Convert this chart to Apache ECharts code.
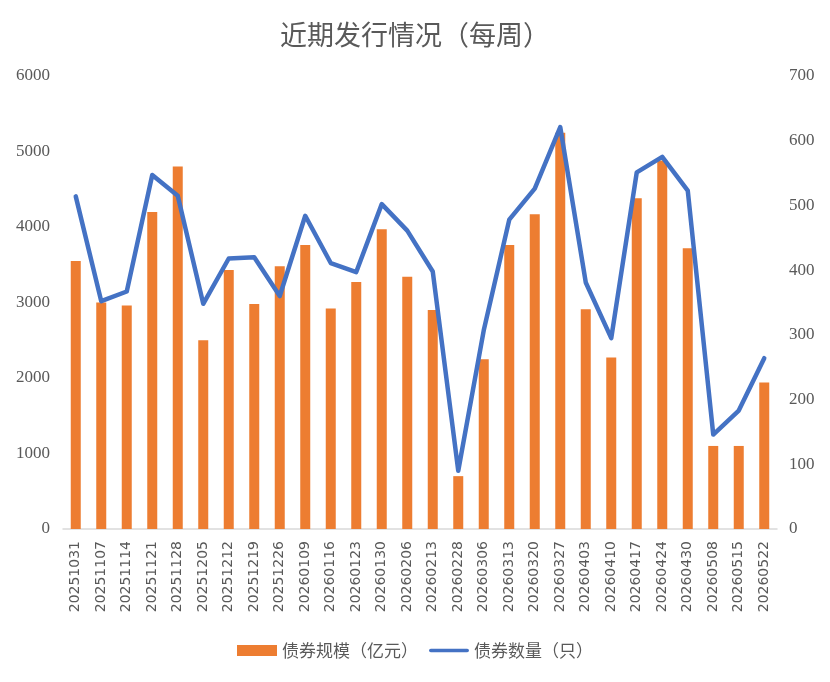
<!DOCTYPE html>
<html>
<head>
<meta charset="utf-8">
<script src="https://cdn.jsdelivr.net/npm/echarts@6/dist/echarts.min.js"></script>
<style>
  html, body { margin: 0; padding: 0; background: #fff; }
  #chart { width: 830px; height: 682px; }
</style>
</head>
<body>
<div id="chart"></div>
<script>
// 日期
var categories = ["20251031","20251107","20251114","20251121","20251128","20251205","20251212",
  "20251219","20251226","20260109","20260116","20260123","20260130","20260206","20260213",
  "20260228","20260306","20260313","20260320","20260327","20260403","20260410","20260417",
  "20260424","20260430","20260508","20260515","20260522"];
// 债券规模（亿元）
var scaleValues = [3550,3000,2960,4200,4800,2500,3430,2980,3480,3760,2920,3270,3970,3340,2900,
  700,2250,3760,4170,5250,2910,2270,4380,4880,3720,1100,1100,1940];
// 债券数量（只）
var countValues = [514,352,367,547,515,348,418,420,360,484,411,397,502,461,398,
  90,307,478,526,621,381,295,551,575,523,146,183,264];

var grey = "#595959";
var chart = echarts.init(document.getElementById("chart"));
var option = {
  backgroundColor: "#fff",
  title: {
    text: "近期发行情况（每周）",
    left: "center",
    top: 16,
    textStyle: { color: grey, fontSize: 27, fontWeight: "normal", fontFamily: "Noto Sans CJK SC" }
  },
  legend: {
    bottom: 18,
    left: "center",
    itemGap: 11,
    itemWidth: 40,
    itemHeight: 11,
    textStyle: { color: grey, fontSize: 17, fontFamily: "Noto Sans CJK SC" },
    data: [
      { name: "债券规模（亿元）", icon: "rect" },
      { name: "债券数量（只）", icon: "path://M2,0 L42,0 A2,2 0 0 1 42,4 L2,4 A2,2 0 0 1 2,0 Z" }
    ]
  },
  grid: { left: 63, right: 53, top: 76, bottom: 153 },
  xAxis: {
    type: "category",
    data: categories,
    axisLine: { lineStyle: { color: "#d9d9d9", width: 1.5 } },
    axisTick: { show: false },
    axisLabel: {
      interval: 0,
      rotate: 90,
      color: grey,
      fontSize: 14,
      fontFamily: "DejaVu Sans",
      margin: 12
    }
  },
  yAxis: [
    {
      type: "value",
      min: 0, max: 6000, interval: 1000,
      splitLine: { show: false },
      axisLine: { show: false },
      axisLabel: { color: grey, fontSize: 17, fontFamily: "Liberation Serif", margin: 13,
        formatter: function (v) { return String(v); } }
    },
    {
      type: "value",
      min: 0, max: 700, interval: 100,
      splitLine: { show: false },
      axisLine: { show: false },
      axisLabel: { color: grey, fontSize: 17, fontFamily: "Liberation Serif", margin: 12 }
    }
  ],
  series: [
    {
      name: "债券规模（亿元）",
      type: "bar",
      yAxisIndex: 0,
      barWidth: 10,
      itemStyle: { color: "#ED7D31" },
      data: scaleValues
    },
    {
      name: "债券数量（只）",
      type: "line",
      yAxisIndex: 1,
      symbol: "none",
      lineStyle: { color: "#4472C4", width: 4.5, cap: "round", join: "round" },
      itemStyle: { color: "#4472C4" },
      data: countValues
    }
  ]
};
chart.setOption(option);
</script>
</body>
</html>
